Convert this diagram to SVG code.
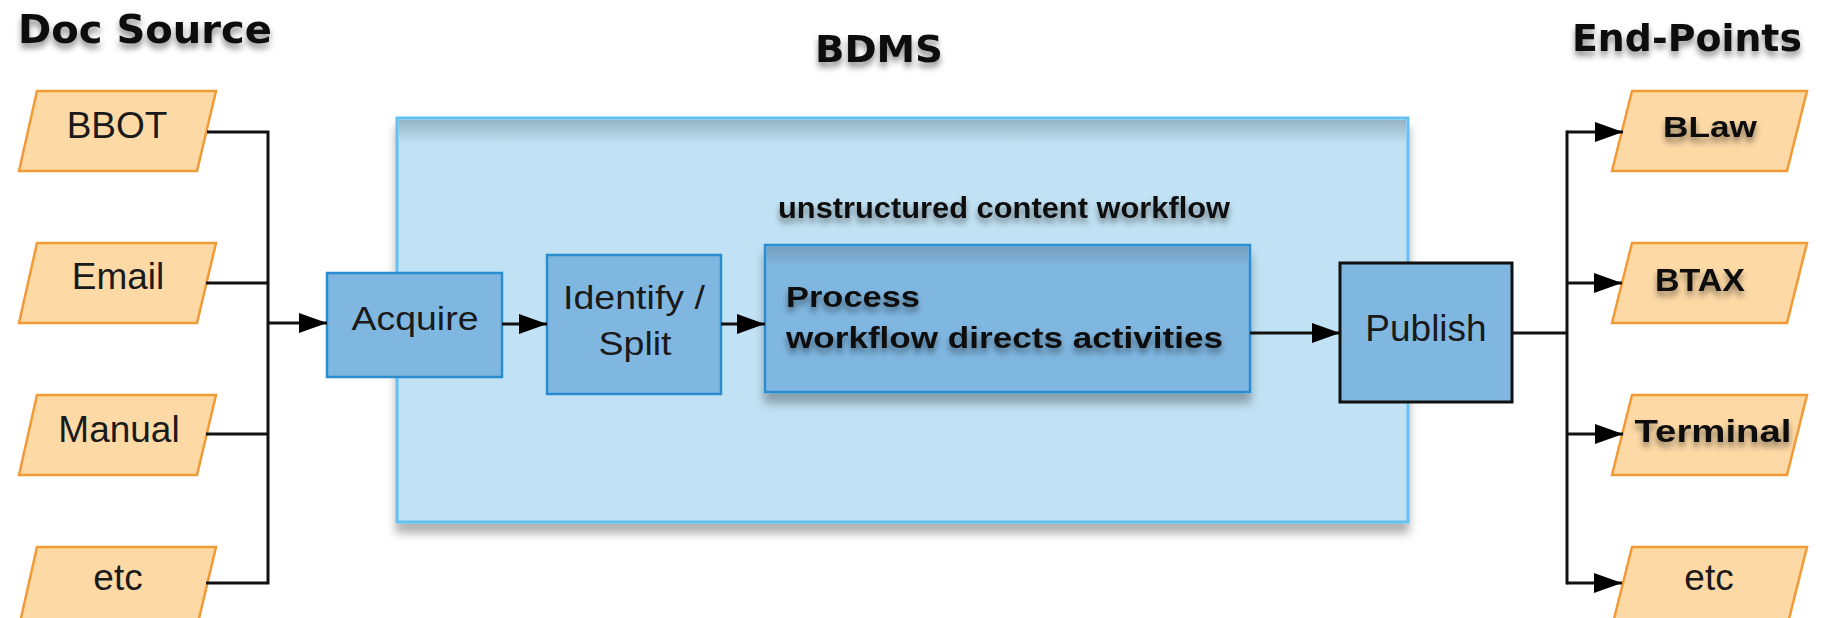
<svg xmlns="http://www.w3.org/2000/svg" width="1829" height="618" viewBox="0 0 1829 618">
<defs>
<style>
.para{fill:#fdd9a5;stroke:#f29a36;stroke-width:2.5}
.blue{fill:#80b7e1;stroke:#2a8dd0;stroke-width:2.5}
.reg{font-family:"Liberation Sans",Arial,sans-serif;fill:#1a1a1a;text-anchor:middle}
.bold{font-family:"DejaVu Sans",Verdana,sans-serif;font-weight:bold;fill:#111}
.lb{font-family:"Liberation Sans",Arial,sans-serif;font-weight:bold;fill:#111}
.line{fill:none;stroke:#111;stroke-width:3}
</style>
<marker id="ah" markerUnits="userSpaceOnUse" markerWidth="28" markerHeight="22" refX="28" refY="11" orient="auto">
<path d="M0,1 L28,11 L0,21 Z" fill="#000"/>
</marker>
<filter id="ts" x="-10%" y="-30%" width="120%" height="190%">
<feDropShadow dx="0" dy="5" stdDeviation="3" flood-color="#000" flood-opacity="0.45"/>
</filter>
<filter id="bs" x="-5%" y="-5%" width="110%" height="125%">
<feDropShadow dx="0" dy="10" stdDeviation="5" flood-color="#000" flood-opacity="0.3"/>
</filter>
<linearGradient id="topshade" x1="0" y1="0" x2="0" y2="1">
<stop offset="0" stop-color="#6f8c9e" stop-opacity="0.55"/>
<stop offset="1" stop-color="#6f8c9e" stop-opacity="0"/>
</linearGradient>
</defs>
<rect width="1829" height="618" fill="#fff"/>

<g id="titles">
<text class="bold" x="18" y="43" font-size="39" textLength="254" lengthAdjust="spacingAndGlyphs" filter="url(#ts)">Doc Source</text>
<text class="bold" x="815" y="62" font-size="38" textLength="128" lengthAdjust="spacingAndGlyphs" filter="url(#ts)">BDMS</text>
<text class="bold" x="1572" y="51" font-size="38" textLength="230" lengthAdjust="spacingAndGlyphs" filter="url(#ts)">End-Points</text>
</g>

<g id="bdms">
<rect x="397" y="118" width="1011" height="404" fill="#c1e2f4" stroke="#62c1f1" stroke-width="3" filter="url(#bs)"/>
<rect x="399" y="120" width="1007" height="24" fill="url(#topshade)"/>
<text class="lb" x="778" y="218" font-size="29" textLength="452" lengthAdjust="spacingAndGlyphs" filter="url(#ts)">unstructured content workflow</text>
</g>

<g id="src-bbot"><polygon class="para" points="37,91 216,91 197,171 19,171"/><text class="reg" x="117" y="138" font-size="37">BBOT</text></g>
<g id="src-email"><polygon class="para" points="37,243 216,243 197,323 19,323"/><text class="reg" x="118" y="289" font-size="37">Email</text></g>
<g id="src-manual"><polygon class="para" points="37,395 216,395 197,475 19,475"/><text class="reg" x="119" y="442" font-size="37">Manual</text></g>
<g id="src-etc"><polygon class="para" points="37,547 216,547 197,627 19,627"/><text class="reg" x="118" y="590" font-size="37">etc</text></g>

<g id="acquire"><rect class="blue" x="327" y="273" width="175" height="104"/><text class="reg" x="415" y="330" font-size="33" textLength="127" lengthAdjust="spacingAndGlyphs">Acquire</text></g>
<g id="identify"><rect class="blue" x="547" y="255" width="174" height="139"/><text class="reg" x="634" y="309" font-size="33" textLength="142" lengthAdjust="spacingAndGlyphs">Identify /</text><text class="reg" x="635" y="355" font-size="33" textLength="73" lengthAdjust="spacingAndGlyphs">Split</text></g>
<g id="process">
<rect class="blue" x="765" y="245" width="485" height="147" stroke-width="3" filter="url(#bs)"/>
<rect x="767" y="247" width="481" height="20" fill="url(#topshade)"/>
<text class="lb" x="786" y="307" font-size="30" textLength="134" lengthAdjust="spacingAndGlyphs" filter="url(#ts)">Process</text>
<text class="lb" x="786" y="348" font-size="30" textLength="437" lengthAdjust="spacingAndGlyphs" filter="url(#ts)">workflow directs activities</text>
</g>
<g id="publish"><rect x="1340" y="263" width="172" height="139" fill="#80b7e1" stroke="#111" stroke-width="3"/><text class="reg" x="1426" y="341" font-size="37">Publish</text></g>

<g id="ep-blaw"><polygon class="para" points="1632,91 1807,91 1787,171 1612,171"/><text class="lb" x="1710" y="137" font-size="30" text-anchor="middle" textLength="94" lengthAdjust="spacingAndGlyphs" filter="url(#ts)">BLaw</text></g>
<g id="ep-btax"><polygon class="para" points="1632,243 1807,243 1787,323 1612,323"/><text class="lb" x="1700" y="291" font-size="31" text-anchor="middle" textLength="90" lengthAdjust="spacingAndGlyphs" filter="url(#ts)">BTAX</text></g>
<g id="ep-terminal"><polygon class="para" points="1632,395 1807,395 1787,475 1612,475"/><text class="lb" x="1713" y="442" font-size="31" text-anchor="middle" textLength="157" lengthAdjust="spacingAndGlyphs" filter="url(#ts)">Terminal</text></g>
<g id="ep-etc"><polygon class="para" points="1632,547 1807,547 1787,627 1612,627"/><text class="reg" x="1709" y="590" font-size="37">etc</text></g>

<g id="connectors">
<path class="line" d="M207,132 H268 M206,283 H268 M206,434 H268 M206,583 H268 M268,130.5 V584.5"/>
<path class="line" d="M268,323 H327" marker-end="url(#ah)"/>
<path class="line" d="M502,324 H547" marker-end="url(#ah)"/>
<path class="line" d="M721,324 H765" marker-end="url(#ah)"/>
<path class="line" d="M1250,333 H1340" marker-end="url(#ah)"/>
<path class="line" d="M1512,333 H1567 M1567,130.5 V584.5"/>
<path class="line" d="M1567,132 H1623" marker-end="url(#ah)"/>
<path class="line" d="M1567,283 H1622" marker-end="url(#ah)"/>
<path class="line" d="M1567,434 H1623" marker-end="url(#ah)"/>
<path class="line" d="M1567,583 H1622" marker-end="url(#ah)"/>
</g>
</svg>
